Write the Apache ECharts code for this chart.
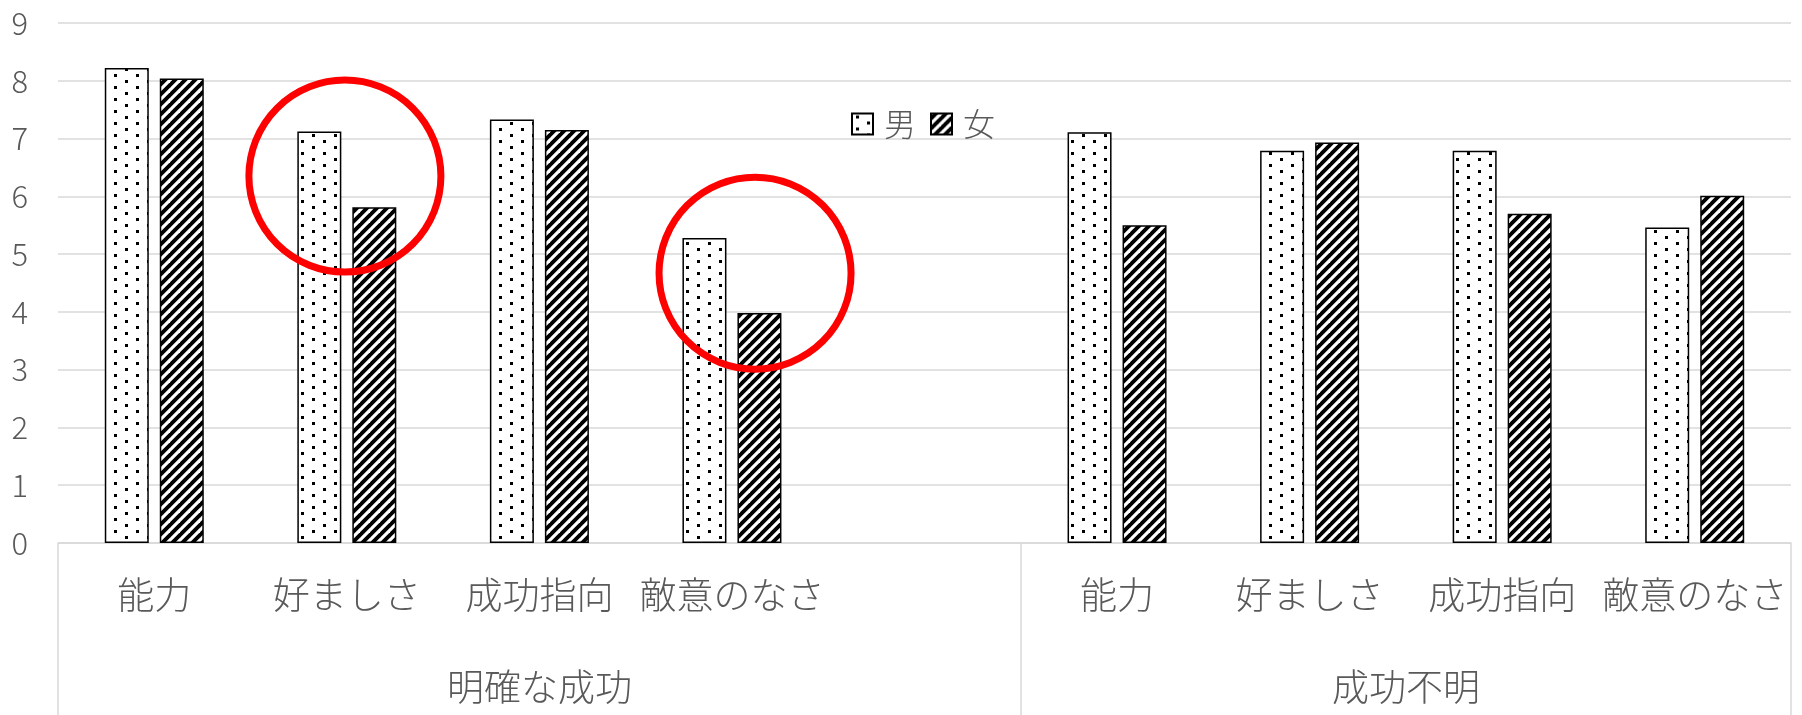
<!DOCTYPE html>
<html>
<head>
<meta charset="utf-8">
<script src="https://cdn.jsdelivr.net/npm/echarts@6/dist/echarts.min.js"></script>
<style>
  html, body { margin: 0; padding: 0; background: #fff; }
  #chart { width: 1802px; height: 715px; }
</style>
</head>
<body>
<div id="chart"></div>
<script>
  // 下の段：項目（明確な成功の後ろは空き1つ）
  var categories = ['能力', '好ましさ', '成功指向', '敵意のなさ', '', '能力', '好ましさ', '成功指向', '敵意のなさ'];
  // 上の段：グループ名と、その中心・境界（項目の数で数える）
  var groupNames = ['明確な成功', '成功不明'];
  var groupCenters = [2.5, 7];
  var groupBounds = [0, 5, 9];

  var maleValues = [8.22, 7.12, 7.33, 5.28, '-', 7.11, 6.79, 6.79, 5.46];
  var femaleValues = [8.04, 5.81, 7.15, 3.98, '-', 5.50, 6.93, 5.70, 6.01];

  // 赤い丸の中心（項目位置, 値）
  var circleMarks = [[1.49, 6.35], [3.62, 4.67]];

  var textColor = '#595959';
  var lineColor = '#d9d9d9';
  var font = '"Noto Sans CJK JP", "Noto Sans", sans-serif';

  // 男：白地に点
  function dotPattern() {
      var c = document.createElement('canvas');
      c.width = 22;
      c.height = 12;
      var ctx = c.getContext('2d');
      ctx.fillStyle = '#fff';
      ctx.fillRect(0, 0, 22, 12);
      ctx.fillStyle = '#000';
      ctx.fillRect(4, 2, 3, 3);
      ctx.fillRect(15, 8, 3, 3);
      return c;
  }

  // 女：黒地に右上がりの斜線
  function stripePattern() {
      var p = 10;
      var c = document.createElement('canvas');
      c.width = p;
      c.height = p;
      var ctx = c.getContext('2d');
      ctx.fillStyle = '#000';
      ctx.fillRect(0, 0, p, p);
      ctx.strokeStyle = '#fff';
      ctx.lineWidth = 3.2;
      [0, p, 2 * p].forEach(function (k) {
          ctx.beginPath();
          ctx.moveTo(k + p, -p);
          ctx.lineTo(k - 2 * p, 2 * p);
          ctx.stroke();
      });
      return c;
  }

  var myChart = echarts.init(document.getElementById('chart'));
  var option = {
      backgroundColor: '#fff',
      animation: false,
      textStyle: { fontFamily: font },
      grid: { left: 58, right: 11, top: 23, bottom: 172, containLabel: false },
      legend: {
          data: ['男', '女'],
          left: 846,
          top: 103,
          itemWidth: 21,
          itemHeight: 21,
          itemGap: 14,
          icon: 'rect',
          textStyle: { fontSize: 32, fontWeight: 300, color: textColor, fontFamily: font, padding: [0, 0, 0, 6] }
      },
      xAxis: [{
          type: 'category',
          data: categories,
          axisLine: { show: true, lineStyle: { color: lineColor, width: 1.5 } },
          axisTick: { show: false },
          axisLabel: { interval: 0, fontSize: 37, fontWeight: 300, color: textColor, margin: 33, fontFamily: font }
      }, {
          type: 'value',
          min: 0,
          max: 9,
          position: 'bottom',
          offset: 0,
          axisLine: { show: false },
          splitLine: { show: false },
          axisTick: {
              show: true,
              customValues: groupBounds,
              length: 175,
              lineStyle: { color: lineColor, width: 1.5 }
          },
          axisLabel: {
              customValues: groupCenters,
              fontSize: 37,
              fontWeight: 300,
              color: textColor,
              margin: 125,
              fontFamily: font,
              formatter: function (v) {
                  var i = groupCenters.indexOf(v);
                  return i >= 0 ? groupNames[i] : '';
              }
          }
      }],
      yAxis: {
          type: 'value',
          min: 0,
          max: 9,
          interval: 1,
          axisLine: { show: false },
          axisTick: { show: false },
          splitLine: { lineStyle: { color: lineColor, width: 1.5 } },
          axisLabel: { fontSize: 31, fontWeight: 300, color: textColor, margin: 30, fontFamily: font }
      },
      series: [{
          name: '男',
          type: 'bar',
          barWidth: 44,
          barGap: '25%',
          data: maleValues,
          itemStyle: {
              color: { image: dotPattern(), repeat: 'repeat' },
              borderColor: '#000',
              borderWidth: 1.5
          }
      }, {
          name: '女',
          type: 'bar',
          barWidth: 44,
          data: femaleValues,
          itemStyle: {
              color: { image: stripePattern(), repeat: 'repeat' },
              borderColor: '#000',
              borderWidth: 1.5
          }
      }, {
          type: 'scatter',
          xAxisIndex: 1,
          yAxisIndex: 0,
          silent: true,
          z: 10,
          symbol: 'circle',
          symbolSize: 192,
          data: circleMarks,
          itemStyle: { color: 'rgba(0,0,0,0)', borderColor: '#ff0000', borderWidth: 7, opacity: 1 }
      }]
  };
  myChart.setOption(option);
</script>
</body>
</html>
